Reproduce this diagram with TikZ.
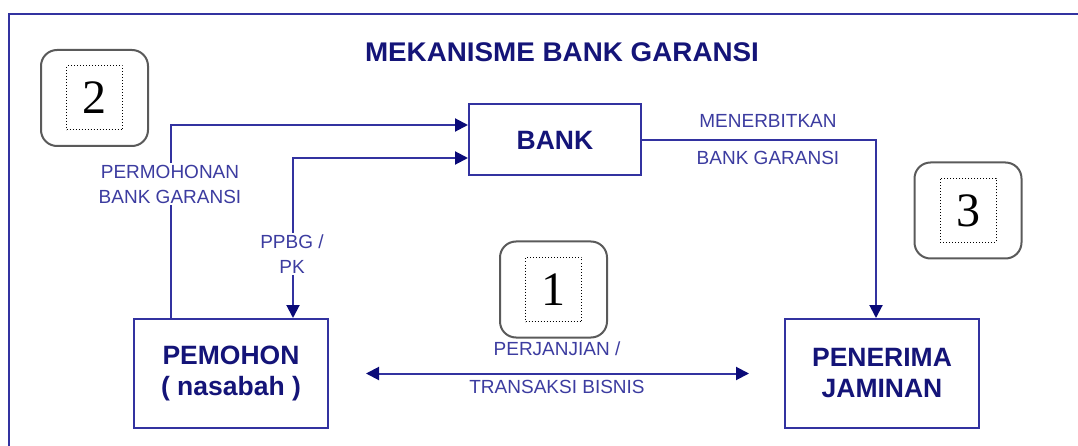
\documentclass[tikz,border=0pt]{standalone}
\usepackage{fontspec}
\setmainfont{Liberation Sans}
\newfontfamily\serifdig{Liberation Serif}
\usetikzlibrary{arrows.meta,calc}
\definecolor{lineblue}{RGB}{50,50,160}
\definecolor{navyt}{RGB}{20,20,120}
\definecolor{tipnavy}{RGB}{10,10,120}
\definecolor{labelblue}{RGB}{60,60,160}
\definecolor{numgray}{RGB}{90,90,90}
\begin{document}
\begin{tikzpicture}[x=1pt,y=-1pt,
  box/.style={draw=lineblue, line width=2pt, fill=white, inner sep=0pt},
  big/.style={font=\fontsize{26.5}{31}\selectfont\bfseries, text=navyt, align=center},
  lbl/.style={font=\fontsize{19}{25}\selectfont, text=labelblue, align=center, fill=white, inner sep=2pt},
  conn/.style={draw=lineblue, line width=2pt},
  tipend/.style={-{Triangle[length=13pt,width=13pt,color=tipnavy]}},
  tipboth/.style={{Triangle[length=13pt,width=13pt,color=tipnavy]}-{Triangle[length=13pt,width=13pt,color=tipnavy]}},
  numbox/.style={draw=numgray, line width=2pt, rounded corners=16pt, minimum width=107pt, minimum height=96pt},
  numin/.style={draw=black, dotted, line width=1pt, minimum width=56pt, minimum height=64pt, inner sep=0pt, font=\fontsize{48}{52}\serifdig}
]
\useasboundingbox (0,0) rectangle (1078,446);
% outer frame
\coordinate (fbl) at (9,470);
\coordinate (ftl) at (9,14);
\coordinate (ftr) at (1100,14);
\draw[lineblue, line width=2pt] (fbl) -- (ftl) -- (ftr);

% title
\node[font=\fontsize{27}{30}\selectfont\bfseries, text=navyt, xscale=1.03] (title) at (562,52) {MEKANISME BANK GARANSI};

% main boxes
\node[box, big, minimum width=172, minimum height=71] (bank) at (555,140) {BANK};
\node[box, big, minimum width=194, minimum height=109] (pemohon) at (231,373.5) {PEMOHON\\( nasabah )};
\node[box, big, minimum width=194, minimum height=109] (penerima) at (882,373.5) {PENERIMA\\JAMINAN};

% number boxes
\node[numbox] (n2) at (94.5,98) {};
\node[numin] (n2i) at (n2) {2};
\node[numbox] (n3) at (968,210.5) {};
\node[numin] (n3i) at (n3) {3};
\node[numbox] (n1) at (553.5,289.5) {};
\node[numin] (n1i) at (n1) {1};

% connectors
\coordinate (c1) at (171,125);
\draw[conn, tipend] (pemohon.north -| c1) -- (c1) -- (c1 -| bank.west);
\node[lbl] (l1) at (170,184) {PERMOHONAN\\BANK GARANSI};

\coordinate (c2) at (293,158);
\draw[conn, tipboth] (c2 -| bank.west) -- (c2) -- (pemohon.north -| c2);
\node[lbl] (l2) at (292,254) {PPBG /\\PK};

\coordinate (c3) at (876,140);
\draw[conn, tipend] (bank.east) -- (c3) -- (penerima.north -| c3);
\node[lbl] (l3a) at (768,121) {MENERBITKAN};
\node[lbl] (l3b) at (768,158) {BANK GARANSI};

\draw[conn, tipboth] ([xshift=37pt]pemohon.east) -- ([xshift=-35pt]penerima.west);
\node[lbl] (l4a) at (557,349) {PERJANJIAN /};
\node[lbl] (l4b) at (557,387) {TRANSAKSI BISNIS};
\end{tikzpicture}
\end{document}
